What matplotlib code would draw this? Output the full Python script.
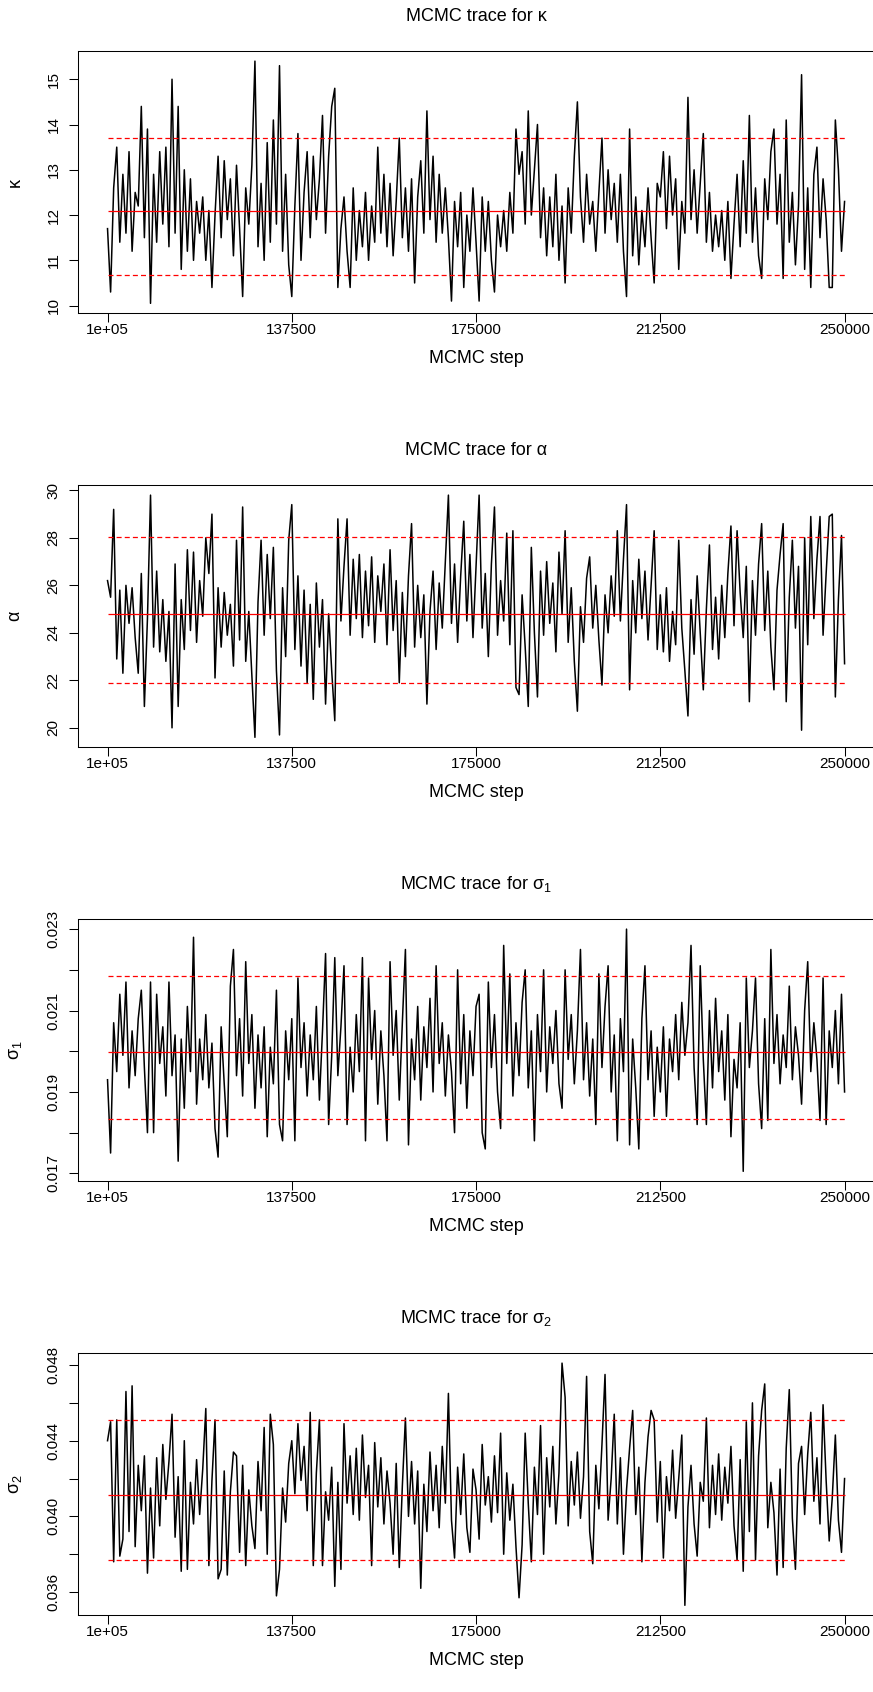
import numpy as np
import matplotlib.pyplot as plt

plt.rcParams['font.family'] = ['Liberation Sans', 'DejaVu Sans']
plt.rcParams['mathtext.fontset'] = 'custom'
plt.rcParams['mathtext.rm'] = 'Liberation Sans'
plt.rcParams['mathtext.it'] = 'Liberation Sans:italic'

# trazas (una muestra cada ~625 pasos)
kappa = [
    11.7, 10.3, 12.6, 13.5, 11.4, 12.9, 11.6, 13.4, 11.2, 12.5,
    12.2, 14.4, 11.5, 13.9, 10.05, 12.9, 11.4, 13.4, 11.8, 13.5,
    11.3, 15.0, 11.6, 14.4, 10.8, 13.0, 11.2, 12.8, 11.0, 12.3,
    11.6, 12.4, 11.0, 12.1, 10.4, 12.0, 13.3, 11.5, 13.2, 11.9,
    12.8, 11.1, 13.1, 11.7, 10.2, 12.6, 11.8, 13.1, 15.4, 11.3,
    12.7, 11.0, 13.6, 11.4, 14.1, 11.8, 15.3, 11.2, 12.9, 10.9,
    10.2, 12.2, 13.8, 11.0, 12.5, 13.4, 11.5, 13.3, 11.9, 12.8,
    14.2, 11.6, 13.3, 14.4, 14.8, 10.4, 11.7, 12.4, 11.2, 10.4,
    12.6, 11.0, 12.1, 11.3, 12.5, 11.0, 12.2, 11.4, 13.5, 11.6,
    12.9, 11.3, 12.7, 11.1, 12.3, 13.7, 11.5, 12.6, 11.2, 12.8,
    10.5, 12.4, 13.2, 11.6, 14.3, 11.9, 13.3, 11.4, 12.9, 11.6,
    12.6, 11.5, 10.1, 12.3, 11.3, 12.5, 10.4, 12.0, 11.2, 12.6,
    11.4, 10.1, 12.4, 11.2, 12.3, 11.0, 10.3, 12.0, 11.3, 12.1,
    11.2, 12.5, 11.6, 13.9, 12.9, 13.4, 11.8, 14.3, 12.0, 13.0,
    14.0, 11.5, 12.6, 11.1, 12.4, 11.3, 12.9, 11.0, 12.2, 10.5,
    12.6, 11.6, 13.3, 14.5, 12.4, 11.4, 12.9, 11.8, 12.3, 11.2,
    12.5, 13.7, 11.6, 13.0, 11.9, 12.7, 11.4, 12.9, 11.2, 10.2,
    13.9, 11.1, 12.4, 10.9, 12.1, 11.3, 12.6, 11.5, 10.5, 12.7,
    12.4, 13.4, 11.7, 13.3, 12.0, 12.8, 10.8, 12.3, 11.6, 14.6,
    11.9, 13.0, 11.6, 12.7, 13.8, 11.4, 12.5, 11.2, 12.0, 11.3,
    12.1, 11.0, 12.3, 10.6, 11.8, 12.9, 11.3, 13.2, 11.6, 14.2,
    11.4, 12.6, 11.1, 10.6, 12.8, 11.9, 13.4, 13.9, 11.8, 12.9,
    10.6, 14.1, 11.4, 12.5, 10.9, 12.2, 15.1, 10.8, 12.6, 10.4,
    12.9, 13.5, 11.5, 12.8, 11.9, 10.4, 10.4, 14.1, 13.0, 11.2, 12.3,
]

alpha = [
    26.2, 25.5, 29.2, 22.9, 25.8, 22.3, 26.0, 24.4, 25.9, 23.8,
    22.3, 26.5, 20.9, 24.6, 29.8, 23.4, 26.6, 23.2, 25.4, 22.8,
    24.9, 20.0, 26.9, 20.9, 25.4, 23.3, 27.5, 24.1, 27.4, 23.6,
    26.2, 24.7, 28.0, 26.5, 29.0, 22.1, 25.9, 23.4, 25.7, 23.9,
    25.2, 22.6, 27.9, 23.7, 29.3, 22.8, 24.9, 22.2, 19.6, 25.3,
    27.9, 23.9, 27.3, 24.6, 27.6, 22.4, 19.7, 25.9, 23.0, 27.9,
    29.4, 23.3, 26.4, 22.6, 25.8, 21.9, 25.2, 21.2, 26.1, 23.4,
    25.4, 21.0, 24.8, 22.4, 20.3, 28.8, 24.5, 26.8, 28.8, 23.9,
    27.1, 24.6, 27.3, 23.8, 26.6, 24.3, 27.2, 23.6, 26.4, 24.9,
    26.9, 23.5, 27.5, 24.1, 26.2, 21.9, 25.7, 23.0, 26.4, 28.6,
    23.4, 26.0, 23.8, 25.6, 21.0, 24.9, 26.6, 23.3, 26.1, 24.2,
    27.0, 29.8, 24.4, 26.9, 23.6, 26.4, 28.7, 24.5, 27.3, 23.8,
    26.8, 29.8, 24.2, 26.5, 23.0, 26.9, 29.3, 23.9, 26.2, 24.5,
    28.2, 23.5, 28.3, 21.7, 21.4, 25.6, 23.4, 20.9, 27.6, 24.0,
    21.3, 26.6, 23.9, 27.0, 24.4, 26.1, 23.2, 27.4, 24.8, 28.3,
    23.6, 25.9, 22.8, 20.7, 25.1, 23.6, 26.3, 27.2, 24.2, 26.0,
    23.7, 21.8, 25.6, 24.0, 26.4, 24.7, 28.3, 24.5, 27.1, 29.4,
    21.6, 26.2, 24.0, 27.1, 24.6, 26.6, 23.7, 26.0, 28.3, 23.3,
    25.6, 23.2, 25.9, 22.8, 24.9, 23.5, 27.9, 24.2, 22.4, 20.5,
    25.4, 23.1, 26.4, 24.0, 21.6, 25.0, 27.7, 23.3, 25.5, 22.9,
    26.0, 23.8, 26.5, 28.5, 24.3, 28.3, 25.7, 23.8, 26.8, 21.1,
    26.2, 23.9, 26.9, 28.6, 24.1, 26.6, 23.4, 21.6, 25.8, 27.3,
    28.6, 21.1, 25.5, 27.9, 24.2, 26.8, 19.9, 28.0, 23.5, 28.9,
    24.6, 27.1, 28.9, 23.9, 26.5, 28.9, 29.0, 21.3, 25.4, 28.1, 22.7,
]

sigma1 = [
    0.0193, 0.0175, 0.0207, 0.0195, 0.0214, 0.0199, 0.0217, 0.0191, 0.0205, 0.0194,
    0.0208, 0.0215, 0.0196, 0.0180, 0.0217, 0.0180, 0.0214, 0.0197, 0.0206, 0.0189,
    0.0217, 0.0194, 0.0204, 0.0173, 0.0203, 0.0186, 0.0211, 0.0195, 0.0228, 0.0187,
    0.0203, 0.0193, 0.0209, 0.0191, 0.0202, 0.0181, 0.0174, 0.0206, 0.0192, 0.0179,
    0.0216, 0.0225, 0.0194, 0.0208, 0.0189, 0.0222, 0.0197, 0.0209, 0.0186, 0.0204,
    0.0191, 0.0206, 0.0179, 0.0201, 0.0192, 0.0215, 0.0182, 0.0178, 0.0205, 0.0193,
    0.0208, 0.0178, 0.0218, 0.0196, 0.0207, 0.0189, 0.0204, 0.0193, 0.0211, 0.0188,
    0.0205, 0.0224, 0.0182, 0.0199, 0.0223, 0.0194, 0.0206, 0.0221, 0.0182, 0.0201,
    0.0190, 0.0209, 0.0195, 0.0223, 0.0178, 0.0218, 0.0198, 0.0210, 0.0187, 0.0205,
    0.0194, 0.0178, 0.0222, 0.0199, 0.0210, 0.0188, 0.0207, 0.0225, 0.0177, 0.0203,
    0.0193, 0.0211, 0.0188, 0.0206, 0.0196, 0.0213, 0.0190, 0.0221, 0.0197, 0.0207,
    0.0189, 0.0204, 0.0195, 0.0180, 0.0220, 0.0192, 0.0209, 0.0186, 0.0205, 0.0194,
    0.0211, 0.0214, 0.0180, 0.0176, 0.0217, 0.0196, 0.0209, 0.0190, 0.0181, 0.0226,
    0.0197, 0.0219, 0.0189, 0.0207, 0.0194, 0.0212, 0.0220, 0.0191, 0.0205, 0.0178,
    0.0209, 0.0195, 0.0220, 0.0190, 0.0206, 0.0197, 0.0210, 0.0192, 0.0186, 0.0220,
    0.0198, 0.0209, 0.0192, 0.0205, 0.0225, 0.0193, 0.0207, 0.0189, 0.0203, 0.0182,
    0.0219, 0.0196, 0.0211, 0.0221, 0.0190, 0.0204, 0.0178, 0.0208, 0.0195, 0.0230,
    0.0177, 0.0203, 0.0191, 0.0176, 0.0208, 0.0221, 0.0193, 0.0205, 0.0184, 0.0201,
    0.0190, 0.0206, 0.0184, 0.0203, 0.0195, 0.0209, 0.0193, 0.0212, 0.0199, 0.0207,
    0.0226, 0.0196, 0.0182, 0.0221, 0.0198, 0.0182, 0.0210, 0.0191, 0.0213, 0.0195,
    0.0205, 0.0188, 0.0209, 0.0179, 0.0198, 0.0191, 0.0207, 0.01705, 0.0218, 0.0196,
    0.0205, 0.0218, 0.0192, 0.0181, 0.0208, 0.0183, 0.0225, 0.0197, 0.0209, 0.0192,
    0.0204, 0.0196, 0.0216, 0.0193, 0.0206, 0.0199, 0.0187, 0.0210, 0.0222, 0.0195,
    0.0207, 0.0198, 0.0183, 0.0218, 0.0182, 0.0205, 0.0196, 0.0210, 0.0192, 0.0214, 0.0190,
]

sigma2 = [
    0.0440, 0.0450, 0.0376, 0.0451, 0.0379, 0.0388, 0.0466, 0.0392, 0.0469, 0.0384,
    0.0427, 0.0403, 0.0432, 0.0370, 0.0415, 0.0378, 0.0431, 0.0395, 0.0438, 0.0409,
    0.0429, 0.0454, 0.0389, 0.0421, 0.0371, 0.0440, 0.0372, 0.0418, 0.0396, 0.0430,
    0.0401, 0.0425, 0.0457, 0.0374, 0.0419, 0.0451, 0.0367, 0.0372, 0.0424, 0.0369,
    0.0413, 0.0434, 0.0432, 0.0381, 0.0427, 0.0374, 0.0414, 0.0395, 0.0383, 0.0429,
    0.0403, 0.0447, 0.0380, 0.0454, 0.0438, 0.0358, 0.0372, 0.0415, 0.0397, 0.0428,
    0.0440, 0.0412, 0.0449, 0.0419, 0.0437, 0.0403, 0.0455, 0.0374, 0.0423, 0.0451,
    0.0374, 0.0413, 0.0398, 0.0426, 0.0363, 0.0418, 0.0372, 0.0449, 0.0407, 0.0432,
    0.0401, 0.0436, 0.0398, 0.0443, 0.0410, 0.0427, 0.0374, 0.0439, 0.0405, 0.0431,
    0.0396, 0.0424, 0.0407, 0.0380, 0.0428, 0.0373, 0.0416, 0.0452, 0.0400, 0.0429,
    0.0396, 0.0424, 0.0362, 0.0417, 0.0392, 0.0434, 0.0403, 0.0427, 0.0394, 0.0437,
    0.0407, 0.0465, 0.0398, 0.0378, 0.0426, 0.0401, 0.0433, 0.0394, 0.0381, 0.0425,
    0.0414, 0.0388, 0.0438, 0.0406, 0.0421, 0.0397, 0.0432, 0.0402, 0.0444, 0.0380,
    0.0423, 0.0398, 0.0417, 0.0384, 0.0357, 0.0385, 0.0444, 0.0407, 0.0376, 0.0426,
    0.0401, 0.0448, 0.0380, 0.0431, 0.0405, 0.0437, 0.0396, 0.0423, 0.0481, 0.0463,
    0.0395, 0.0429, 0.0406, 0.0434, 0.0399, 0.0421, 0.0474, 0.0392, 0.0375, 0.0427,
    0.0404, 0.0438, 0.0475, 0.0398, 0.0420, 0.0454, 0.0396, 0.0431, 0.0380, 0.0414,
    0.0436, 0.0456, 0.0401, 0.0426, 0.0376, 0.0418, 0.0442, 0.0456, 0.0451, 0.0397,
    0.0429, 0.0378, 0.0421, 0.0403, 0.0435, 0.0399, 0.0420, 0.0443, 0.0353, 0.0405,
    0.0427, 0.0396, 0.0379, 0.0418, 0.0408, 0.0452, 0.0394, 0.0427, 0.0401, 0.0433,
    0.0398, 0.0426, 0.0407, 0.0437, 0.0395, 0.0377, 0.0430, 0.0371, 0.0450, 0.0392,
    0.0460, 0.0377, 0.0432, 0.0456, 0.0470, 0.0394, 0.0418, 0.0402, 0.0369, 0.0425,
    0.0373, 0.0436, 0.0467, 0.0399, 0.0372, 0.0428, 0.0437, 0.0401, 0.0433, 0.0455,
    0.0408, 0.0431, 0.0396, 0.0459, 0.0419, 0.0387, 0.0410, 0.0443, 0.0398, 0.0381, 0.0420,
]

# media y cuantiles (lineas rojas)
kappa_lines = (12.09, 10.67, 13.71)
alpha_lines = (24.80, 21.88, 28.05)
sigma1_lines = (0.01998, 0.01833, 0.02186)
sigma2_lines = (0.04113, 0.03769, 0.04508)

x_ticks = [100000, 137500, 175000, 212500, 250000]
x_ticklabels = ["1e+05", "137500", "175000", "212500", "250000"]

kappa_yticks = [10, 11, 12, 13, 14, 15]
kappa_ylabels = ["10", "11", "12", "13", "14", "15"]
alpha_yticks = [20, 22, 24, 26, 28, 30]
alpha_ylabels = ["20", "22", "24", "26", "28", "30"]
sigma1_yticks = [0.017, 0.018, 0.019, 0.020, 0.021, 0.022, 0.023]
sigma1_ylabels = ["0.017", "", "0.019", "", "0.021", "", "0.023"]
sigma2_yticks = [0.036, 0.038, 0.040, 0.042, 0.044, 0.046, 0.048]
sigma2_ylabels = ["0.036", "", "0.040", "", "0.044", "", "0.048"]

paneles = [
    ("κ", kappa, kappa_lines, kappa_yticks, kappa_ylabels),
    ("α", alpha, alpha_lines, alpha_yticks, alpha_ylabels),
    ("σ$_1$", sigma1, sigma1_lines, sigma1_yticks, sigma1_ylabels),
    ("σ$_2$", sigma2, sigma2_lines, sigma2_yticks, sigma2_ylabels),
]

fig = plt.figure(figsize=(8.73, 16.92), dpi=100)
abajo = [0.8150, 0.5585, 0.3020, 0.0455]

for (nombre, valores, lineas, yt, yl), b in zip(paneles, abajo):
    ax = fig.add_axes([0.0894, b, 0.9118, 0.1546])
    pasos = np.linspace(100000, 250000, len(valores))
    ax.plot(pasos, valores, color='black', lw=1.1)
    media, q_lo, q_hi = lineas
    ax.hlines(media, pasos[0], pasos[-1], colors='red', lw=0.9)
    ax.hlines([q_lo, q_hi], pasos[0], pasos[-1], colors='red', lw=0.9,
              linestyles=(0, (4, 2.5)))

    lo, hi = min(valores), max(valores)
    pad = 0.04 * (hi - lo)
    ax.set_ylim(lo - pad, hi + pad)
    ax.set_xlim(94000, 256000)

    ax.set_xticks(x_ticks, x_ticklabels)
    ax.set_yticks(yt, yl)
    ax.tick_params(direction='out', length=6.5, width=0.75, labelsize=11)
    ax.tick_params(axis='x', pad=1)
    ax.tick_params(axis='y', pad=6)
    for lab in ax.get_yticklabels():
        lab.set_rotation(90)
        lab.set_va('center')
    for s in ax.spines.values():
        s.set_linewidth(0.75)

    ax.set_title("MCMC trace for " + nombre, fontsize=13, pad=22)
    ax.set_xlabel("MCMC step", fontsize=13)
    ax.xaxis.set_label_coords(0.5, -0.143)
    ax.set_ylabel(nombre, fontsize=13)
    ax.yaxis.set_label_coords(-0.0685, 0.5)

fig.savefig("out.png", dpi=100)
